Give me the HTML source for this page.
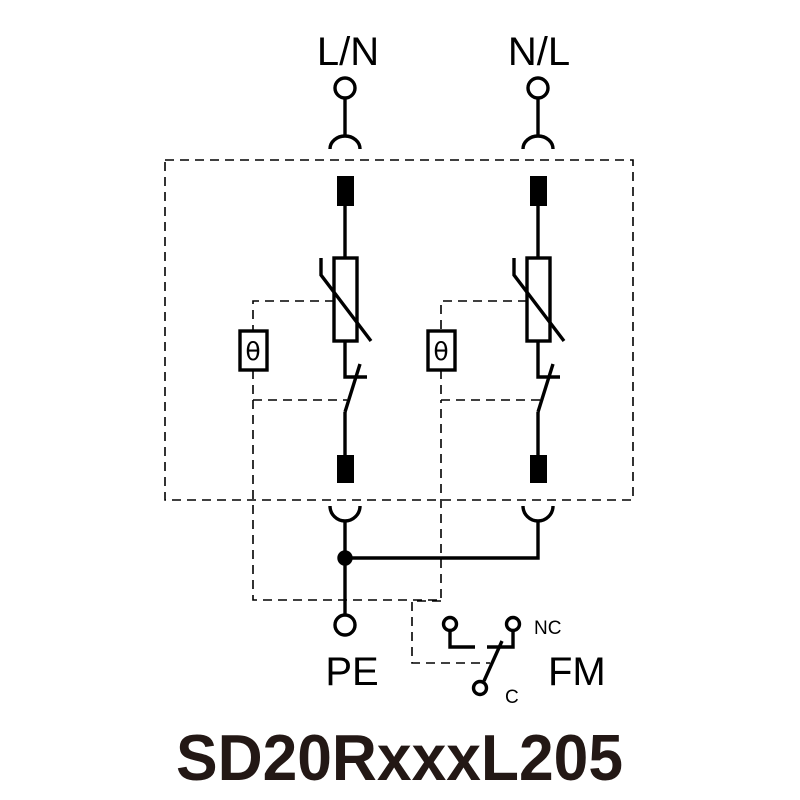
<!DOCTYPE html>
<html><head><meta charset="utf-8"><style>html,body{margin:0;padding:0;background:#fff}svg{display:block}</style></head>
<body>
<svg width="800" height="800" viewBox="0 0 800 800" xmlns="http://www.w3.org/2000/svg" font-family="Liberation Sans, sans-serif">
<g fill="none" stroke="#000" stroke-width="3.4">
  <rect x="165" y="160" width="468" height="340" stroke-width="1.6" stroke-dasharray="9,6"/>
  <g id="col">
    <circle cx="345" cy="88" r="10"/>
    <line x1="345" y1="98" x2="345" y2="137"/>
    <path d="M330 149 A15 13 0 0 1 360 149"/>
    <rect x="337" y="176" width="17" height="30" fill="#000" stroke="none"/>
    <line x1="345" y1="206" x2="345" y2="258"/>
    <rect x="334" y="258" width="23" height="83"/>
    <path d="M321 258 L321 275 L371 341"/>
    <path d="M345 341 L345 377 L367 377"/>
    <line x1="360" y1="364" x2="345" y2="412"/>
    <line x1="345" y1="412" x2="345" y2="455"/>
    <rect x="337" y="455" width="17" height="28" fill="#000" stroke="none"/>
    <path d="M330 506 A15 15 0 0 0 360 506"/>
  </g>
  <use href="#col" transform="translate(193,0)"/>
  <rect x="240" y="331" width="27" height="39"/>
  <rect x="428" y="331" width="27" height="39"/>
  <g stroke-width="1.6" stroke-dasharray="9,6">
    <path d="M334 301 L253 301 L253 331"/>
    <path d="M253 370 L253 400 L347 400"/>
    <path d="M527 301 L441 301 L441 331"/>
    <path d="M441 370 L441 400 L540 400"/>
    <path d="M253 400 L253 600 L441 600 L441 400"/>
    <path d="M441 601 L412 601 L412 663 L490 663"/>
  </g>
  <line x1="345" y1="521" x2="345" y2="614"/>
  <path d="M538 521 L538 558 L345 558"/>
  <circle cx="345" cy="558" r="6" fill="#000"/>
  <circle cx="345" cy="625" r="10"/>
  <circle cx="450" cy="624" r="6.5"/>
  <path d="M450 630 L450 647 L475 647"/>
  <circle cx="513" cy="624" r="6.5"/>
  <path d="M513 630 L513 647 L487 647"/>
  <line x1="502" y1="641" x2="484" y2="681"/>
  <circle cx="480" cy="688" r="6.5"/>
</g>
<g fill="#000">
  <text x="348" y="65" font-size="40" text-anchor="middle">L/N</text>
  <text x="539" y="65" font-size="40" text-anchor="middle">N/L</text>
  <text x="253" y="360" font-size="25" text-anchor="middle" font-family="DejaVu Sans, sans-serif">θ</text>
  <text x="441" y="360" font-size="25" text-anchor="middle" font-family="DejaVu Sans, sans-serif">θ</text>
  <text x="352" y="685" font-size="40" text-anchor="middle">PE</text>
  <text x="548" y="685" font-size="40">FM</text>
  <text x="534" y="634" font-size="19">NC</text>
  <text x="505" y="703" font-size="19">C</text>
  <text x="176" y="780" font-size="65" font-weight="bold" fill="#231815" textLength="447" lengthAdjust="spacingAndGlyphs">SD20RxxxL205</text>
</g>
</svg>
</body></html>
